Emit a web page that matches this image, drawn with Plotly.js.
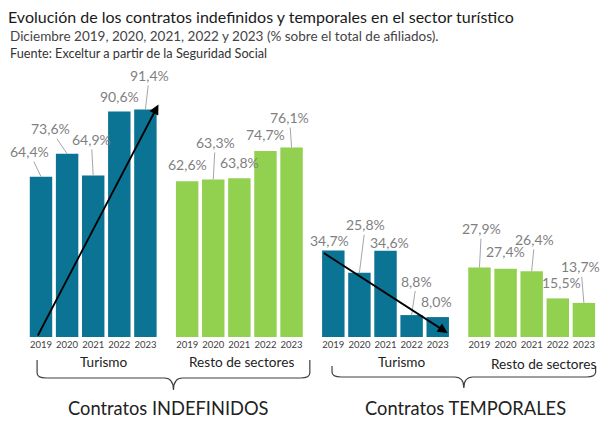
<!DOCTYPE html>
<html><head><meta charset="utf-8">
<script src="https://cdn.plot.ly/plotly-3.0.1.min.js"></script>
<style>html,body{margin:0;padding:0;background:#fff}#chart{width:600px;height:422px}</style>
</head><body><div id="chart"></div>
<script>
// ---- data ----
const years = ['2019','2020','2021','2022','2023'];
const turismoIndefinidos = [64.4, 73.6, 64.9, 90.6, 91.4];
const restoIndefinidos   = [62.6, 63.3, 63.8, 74.7, 76.1];
const turismoTemporales  = [34.7, 25.8, 34.6, 8.8, 8.0];
const restoTemporales    = [27.9, 27.4, 26.4, 15.5, 13.7];
const groupNames = ['Turismo', 'Resto de sectores', 'Turismo', 'Resto de sectores'];
const blockNames = ['Contratos INDEFINIDOS', 'Contratos TEMPORALES'];
const titleText = 'Evolución de los contratos indefinidos y temporales en el sector turístico';
const subtitleText = 'Diciembre 2019, 2020, 2021, 2022 y 2023 (% sobre el total de afiliados).';
const sourceText = 'Fuente: Exceltur a partir de la Seguridad Social';

// ---- layout config ----
const W = 600, H = 422;
const baselinePx = 337, pxPerY = 2.49, pxPerX = 26.1, firstBarPx = 41;
const groupStep = 5.6;
const TEAL = '#0b7393', GREEN = '#92d050';
const FONT = 'Lato, "Open Sans", sans-serif';
const series = [turismoIndefinidos, restoIndefinidos, turismoTemporales, restoTemporales];
const colors = [TEAL, GREEN, TEAL, GREEN];
// label offsets (px) relative to bar top, and whether a leader line shows
const labelOffsets = [
  [[-12,-25,1],[-17,-25,1],[-2,-36,1],[0,-15,0],[4,-34,1]],
  [[0,-17,0],[2,-37,1],[0,-16,0],[0,-17,0],[-2,-30,1]],
  [[-4,-10,0],[6,-48,1],[4,-8,0],[5,-34,1],[-1,-16,0]],
  [[2,-39,1],[0,-17,0],[3,-32,1],[4,-16,0],[-3,-36,1]]
];
const groupLabelShift = [0.4, 0.1, 0.6, 0.45];
const blockLabelShift = [-0.2, 0.05];

const xOf = (g, i) => g * groupStep + i;
const pPx = py => (baselinePx - py) / baselinePx;       // paper-y for a pixel row
const fmt = v => v.toFixed(1).replace('.', ',') + '%';

const traces = series.map((vals, g) => ({
  type: 'bar',
  x: vals.map((_, i) => xOf(g, i)),
  y: vals,
  width: 0.86,
  marker: {color: colors[g], line: {width: 0}},
  hoverinfo: 'skip',
  showlegend: false
}));

const tickvals = [], ticktext = [];
series.forEach((vals, g) => vals.forEach((_, i) => { tickvals.push(xOf(g, i)); ticktext.push(years[i]); }));

const annotations = [];
series.forEach((vals, g) => vals.forEach((v, i) => {
  const o = labelOffsets[g][i];
  annotations.push({
    x: xOf(g, i), y: v, xref: 'x', yref: 'y',
    text: fmt(v), showarrow: true, arrowhead: 0, arrowwidth: 1,
    arrowcolor: o[2] ? '#a6a6a6' : 'rgba(0,0,0,0)',
    ax: o[0], ay: o[1], standoff: 0,
    font: {family: FONT, size: 14, color: '#7f7f7f'}
  });
}));

// trend arrows
annotations.push({
  xref: 'x', yref: 'y', axref: 'x', ayref: 'y',
  x: xOf(0, 4) + 0.5, y: turismoIndefinidos[4] + 2,
  ax: xOf(0, 0) - 0.15, ay: 0,
  showarrow: true, arrowhead: 2, arrowsize: 1.1, arrowwidth: 1.8, arrowcolor: '#000', text: ''
});
annotations.push({
  xref: 'x', yref: 'y', axref: 'x', ayref: 'y',
  x: xOf(2, 4) + 0.38, y: 1.6,
  ax: xOf(2, 0) - 0.42, ay: turismoTemporales[0] - 0.6,
  showarrow: true, arrowhead: 2, arrowsize: 1.1, arrowwidth: 1.8, arrowcolor: '#000', text: ''
});

// group labels
groupNames.forEach((name, g) => {
  annotations.push({
    x: xOf(g, 2) + groupLabelShift[g], y: pPx(g < 3 ? 362 : 364), xref: 'x', yref: 'paper',
    text: name, showarrow: false, yanchor: 'middle',
    font: {family: FONT, size: 13.6, color: '#222'}
  });
});

// braces
const braces = [
  {x0: xOf(0, 0) - 0.15, x1: xOf(1, 4) + 0.7, top: 360, mid: 378, tip: 390},
  {x0: xOf(2, 0) - 0.05, x1: xOf(3, 4) + 0.45, top: 366, mid: 377, tip: 388}
];
function bracePath(b) {
  const xc = (b.x0 + b.x1) / 2, r = 0.35;
  return `M ${b.x0},${pPx(b.top)} L ${b.x0},${pPx(b.mid - 5)} Q ${b.x0},${pPx(b.mid)} ${b.x0 + r},${pPx(b.mid)} ` +
         `L ${xc - r},${pPx(b.mid)} Q ${xc},${pPx(b.mid)} ${xc},${pPx(b.tip)} Q ${xc},${pPx(b.mid)} ${xc + r},${pPx(b.mid)} ` +
         `L ${b.x1 - r},${pPx(b.mid)} Q ${b.x1},${pPx(b.mid)} ${b.x1},${pPx(b.mid - 5)} L ${b.x1},${pPx(b.top)}`;
}
const shapes = braces.map(b => ({
  type: 'path', xref: 'x', yref: 'paper', path: bracePath(b),
  line: {color: '#404040', width: 1.2}
}));
braces.forEach((b, k) => {
  annotations.push({
    x: (b.x0 + b.x1) / 2 + blockLabelShift[k], y: pPx(408), xref: 'x', yref: 'paper',
    text: blockNames[k], showarrow: false, yanchor: 'middle',
    font: {family: FONT, size: 18.3, color: '#222'}
  });
});

annotations.push({
  xref: 'paper', yref: 'paper', x: 8 / W, y: pPx(36), xanchor: 'left', yanchor: 'middle',
  text: subtitleText, showarrow: false, font: {family: FONT, size: 13.5, color: '#444'}
});
annotations.push({
  xref: 'paper', yref: 'paper', x: 8 / W, y: pPx(53), xanchor: 'left', yanchor: 'middle',
  text: sourceText, showarrow: false, font: {family: FONT, size: 12.7, color: '#333'}
});

const layout = {
  width: W, height: H,
  margin: {l: 0, r: 0, t: 0, b: H - baselinePx, pad: 0},
  paper_bgcolor: '#fff', plot_bgcolor: '#fff',
  font: {family: FONT},
  title: {
    text: titleText, xref: 'container', yref: 'container',
    x: 8 / W, xanchor: 'left', y: 1 - 17 / H, yanchor: 'middle',
    font: {family: FONT, size: 16, color: '#1a1a1a'}
  },
  barmode: 'overlay',
  xaxis: {
    range: [-firstBarPx / pxPerX, (W - firstBarPx) / pxPerX],
    tickvals, ticktext, ticks: '', showgrid: false, zeroline: false, showline: false,
    tickfont: {family: FONT, size: 9.5, color: '#404040'}, fixedrange: true
  },
  yaxis: {range: [0, baselinePx / pxPerY], visible: false, fixedrange: true},
  annotations, shapes
};

Plotly.newPlot('chart', traces, layout, {displayModeBar: false, staticPlot: true});
</script>
</body></html>
